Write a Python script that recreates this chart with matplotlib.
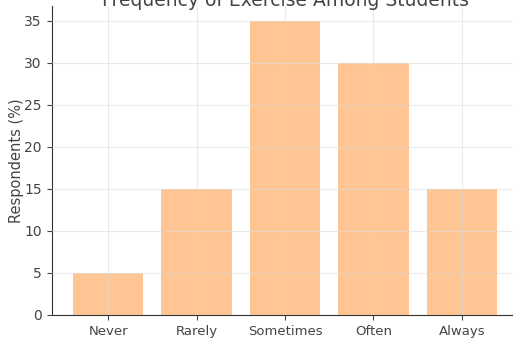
import matplotlib
matplotlib.use('Agg')
import matplotlib.pyplot as plt

# data
categories = ["Never", "Rarely", "Sometimes", "Often", "Always"]
respondents = [5, 15, 35, 30, 15]
title = "Frequency of Exercise Among Students"

fig = plt.figure(figsize=(5.13, 3.38), dpi=100)
ax = fig.add_axes([51.5 / 513, 1 - 315 / 338, 467 / 513, 309 / 338])

ax.bar(categories, respondents, width=0.8, color="#ff7f0e", alpha=0.45, zorder=2)
ax.grid(True, color="#dddddd", linewidth=0.8, alpha=0.6, zorder=3)
ax.set_axisbelow(False)

ax.set_ylabel("Respondents (%)", fontsize=10.5, color="#444444", labelpad=0)
ax.set_title(title, fontsize=13.5, pad=0, y=1.0, color="#444444")
ax.tick_params(axis="x", labelsize=9.5, colors="#444444")
ax.tick_params(axis="y", labelsize=10, colors="#444444")

for side in ("top", "right"):
    ax.spines[side].set_visible(False)
for side in ("left", "bottom"):
    ax.spines[side].set_color("#333333")

fig.savefig("out.png", dpi=100)
